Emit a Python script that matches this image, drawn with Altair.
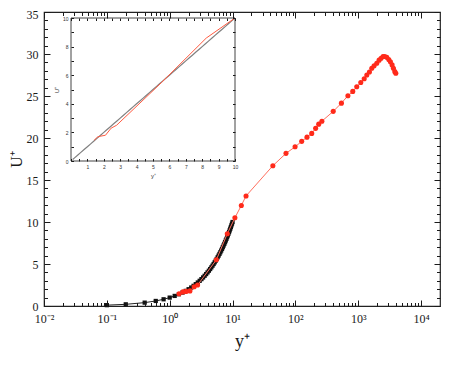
import json
import altair as alt
import pandas as pd

# ---------------- data ----------------
# near-wall profile, black squares (U+ = y+)
black_yplus = [0.1, 0.2, 0.4, 0.6, 0.8, 1.0, 1.2, 1.4, 1.6, 1.8, 2.0, 2.2, 2.4, 2.6, 2.8,
               3.0, 3.2, 3.4, 3.6, 3.8, 4.0, 4.2, 4.4, 4.6, 4.8, 5.0, 5.2, 5.4, 5.6, 5.8,
               6.0, 6.2, 6.4, 6.6, 6.8, 7.0, 7.2, 7.4, 7.6, 7.8, 8.0, 8.2, 8.4, 8.6, 8.8,
               9.0, 9.2, 9.4, 9.6, 9.8, 10.0]
black_uplus = [0.1, 0.2, 0.4, 0.6, 0.8, 1.0, 1.2, 1.4, 1.6, 1.8, 2.0, 2.2, 2.4, 2.6, 2.8,
               3.0, 3.2, 3.4, 3.6, 3.8, 4.0, 4.2, 4.4, 4.6, 4.8, 5.0, 5.2, 5.4, 5.6, 5.8,
               6.0, 6.2, 6.4, 6.6, 6.8, 7.0, 7.2, 7.4, 7.6, 7.8, 8.0, 8.2, 8.4, 8.6, 8.8,
               9.0, 9.2, 9.4, 9.6, 9.8, 10.0]

# computed profile, red circles
red_yplus = [1.41, 1.62, 1.82, 2.1, 2.45, 2.78, 5.53, 8.25, 10.9, 13.8, 16.4, 43.8, 70.9,
             98.9, 126, 153, 182, 210, 235, 264, 400, 540, 685, 818, 947, 1097, 1245,
             1370, 1507, 1644, 1788, 1972, 2148, 2311, 2485, 2644, 2844, 3061, 3250,
             3458, 3630, 3820, 3963]
red_uplus = [1.45, 1.68, 1.74, 1.8, 2.3, 2.5, 5.5, 8.6, 10.5, 11.97, 13.1, 16.7, 18.17,
             18.95, 19.6, 20.1, 20.55, 21.15, 21.65, 22.0, 23.17, 24.15, 25.03, 25.55,
             26.1, 26.6, 27.05, 27.5, 27.85, 28.3, 28.6, 28.9, 29.27, 29.5, 29.7, 29.7,
             29.6, 29.35, 29.07, 28.7, 28.3, 27.9, 27.7]

# axis ticks / labels
x_decades = [0.01, 0.1, 1, 10, 100, 1000, 10000]
x_decade_labels = ["10\u207b\u00b2", "10\u207b\u00b9", "10\u2070", "10\u00b9",
                   "10\u00b2", "10\u00b3", "10\u2074"]
x_ticks = [m * d for d in [0.01, 0.1, 1, 10, 100, 1000] for m in range(1, 10)] + [10000]
y_labels = [0, 5, 10, 15, 20, 25, 30, 35]
y_ticks = list(range(0, 36))
inset_x_labels = [1, 2, 3, 4, 5, 6, 7, 8, 9, 10]
inset_x_ticks = [i * 0.5 for i in range(0, 21)]
inset_y_labels = [0, 2, 4, 6, 8, 10]
inset_y_ticks = list(range(0, 11))

black = pd.DataFrame({"y": black_yplus, "u": black_uplus})
red = pd.DataFrame({"y": red_yplus, "u": red_uplus})
frame = pd.DataFrame({"x0": [0], "x1": [10], "y0": [0], "y1": [10]})

W, H = 396, 294
SERIF = "Liberation Serif"
INK = "#1a1a1a"

xs = alt.Scale(type="log", domain=[0.01, 20000], nice=False)
ys = alt.Scale(domain=[0, 35], nice=False, zero=False)
# inset occupies part of the plot area (pixel range inside the main view)
IX0, IX1, IY0, IY1 = 27, 191, 149, 6
xi = alt.Scale(domain=[0, 10], range=[IX0, IX1], nice=False, clamp=True)
yi = alt.Scale(domain=[0, 10], range=[IY0, IY1], nice=False, clamp=True, zero=False)

XMAJ = "abs(log(datum.value)/LN10 - round(log(datum.value)/LN10)) < 0.000001"
YMAJ = "datum.value % 5 == 0"


def tick_axis(orient, offset, values, test=None, big=6, small=3.5, **kw):
    size = big if test is None else {"condition": {"test": test, "value": big}, "value": small}
    return alt.Axis(orient=orient, offset=offset, values=values, labels=False,
                    domain=False, grid=False, ticks=True, tickSize=size,
                    tickColor=INK, tickWidth=1, title=None, zindex=1, **kw)


label_expr_x = json.dumps(x_decade_labels, ensure_ascii=False) + \
    "[round(log(datum.value)/LN10) + 2]"

x_label_axis = alt.Axis(orient="bottom", values=x_decades, labelExpr=label_expr_x,
                        ticks=False, tickSize=0, domain=False, grid=False,
                        labelFont=SERIF, labelFontSize=12, labelColor=INK,
                        labelPadding=7, labelFlush=False, labelOverlap=False,
                        title="y\u207a", titleFont=SERIF, titleFontSize=18,
                        titleFontWeight="normal", titleColor=INK, titlePadding=8)
y_label_axis = alt.Axis(orient="left", values=y_labels, ticks=False, tickSize=0,
                        domain=False, grid=False, labelFont=SERIF, labelFontSize=12,
                        labelColor=INK, labelPadding=6, labelOverlap=False,
                        labelOffset={"condition": {"test": "datum.value == 35", "value": 2},
                                     "value": 0},
                        title="U\u207a", titleFont=SERIF, titleFontSize=16,
                        titleFontWeight="normal", titleColor=INK, titlePadding=2)

# main data layers (each carrying one set of axes)
black_line = alt.Chart(black).mark_line(color="#222222", strokeWidth=1).encode(
    x=alt.X("y:Q", scale=xs, axis=tick_axis("top", -H, x_ticks, XMAJ)),
    y=alt.Y("u:Q", scale=ys, axis=tick_axis("right", -W, y_ticks, YMAJ)),
)
black_pts = alt.Chart(black).mark_square(color="#111111", size=18, opacity=1).encode(
    x=alt.X("y:Q", scale=xs, axis=tick_axis("bottom", -H, x_ticks, XMAJ)),
    y=alt.Y("u:Q", scale=ys, axis=tick_axis("left", -W, y_ticks, YMAJ)),
)
red_line = alt.Chart(red).mark_line(color="#ff6f5e", strokeWidth=1).encode(
    x=alt.X("y:Q", scale=xs, axis=x_label_axis),
    y=alt.Y("u:Q", scale=ys, axis=y_label_axis),
)
red_pts = alt.Chart(red).mark_circle(color="#ff2a1a", size=26, opacity=1).encode(
    x=alt.X("y:Q", scale=xs, axis=None),
    y=alt.Y("u:Q", scale=ys, axis=None),
)

# inset
SMALL = "Liberation Sans"
inset_frame = alt.Chart(frame).mark_rect(fill="white", stroke="#444444",
                                         strokeWidth=1).encode(
    x=alt.X("x0:Q", scale=xi,
            axis=alt.Axis(orient="bottom", offset=-(H - IY0), values=inset_x_labels,
                          ticks=False, tickSize=0, domain=False, grid=False,
                          labelFont=SMALL, labelFontSize=5, labelColor="#333",
                          labelPadding=3, labelOverlap=False, labelFlush=False,
                          title="y\u207a", titleFont=SMALL, titleFontSize=6,
                          titleFontWeight="normal", titleColor="#333",
                          titlePadding=3)),
    x2="x1:Q",
    y=alt.Y("y0:Q", scale=yi,
            axis=alt.Axis(orient="left", offset=-IX0, values=inset_y_labels,
                          ticks=False, tickSize=0, domain=False, grid=False,
                          labelFont=SMALL, labelFontSize=5, labelColor="#333",
                          labelPadding=3, labelOverlap=False, labelFlush=False,
                          title="U\u207a", titleFont=SMALL, titleFontSize=6,
                          titleFontWeight="normal", titleColor="#333",
                          titlePadding=3)),
    y2="y1:Q",
)
inset_black = alt.Chart(black).mark_line(color="#808080", strokeWidth=1.2).encode(
    x=alt.X("y:Q", scale=xi, axis=tick_axis("top", -IY0, inset_x_ticks, big=2.5)),
    y=alt.Y("u:Q", scale=yi, axis=tick_axis("right", -(W - IX0), inset_y_ticks, big=2.5)),
)
inset_red = alt.Chart(red).mark_line(color="#ff5a40", strokeWidth=1).encode(
    x=alt.X("y:Q", scale=xi, axis=tick_axis("bottom", -(H - IY1), inset_x_ticks, big=2.5)),
    y=alt.Y("u:Q", scale=yi, axis=tick_axis("left", -IX1, inset_y_ticks, big=2.5)),
)

chart = alt.layer(
    black_line, black_pts, red_line, red_pts, inset_frame, inset_black, inset_red
).resolve_scale(x="independent", y="independent").resolve_axis(
    x="independent", y="independent"
).properties(
    width=W, height=H,
    autosize=alt.AutoSizeParams(type="none"),
    padding={"left": 36, "top": 4, "right": 2, "bottom": 53},
    background="white",
).configure_view(stroke="#222222", strokeWidth=1.2)

chart.save("out.html", embed_options={"renderer": "svg", "actions": False})
